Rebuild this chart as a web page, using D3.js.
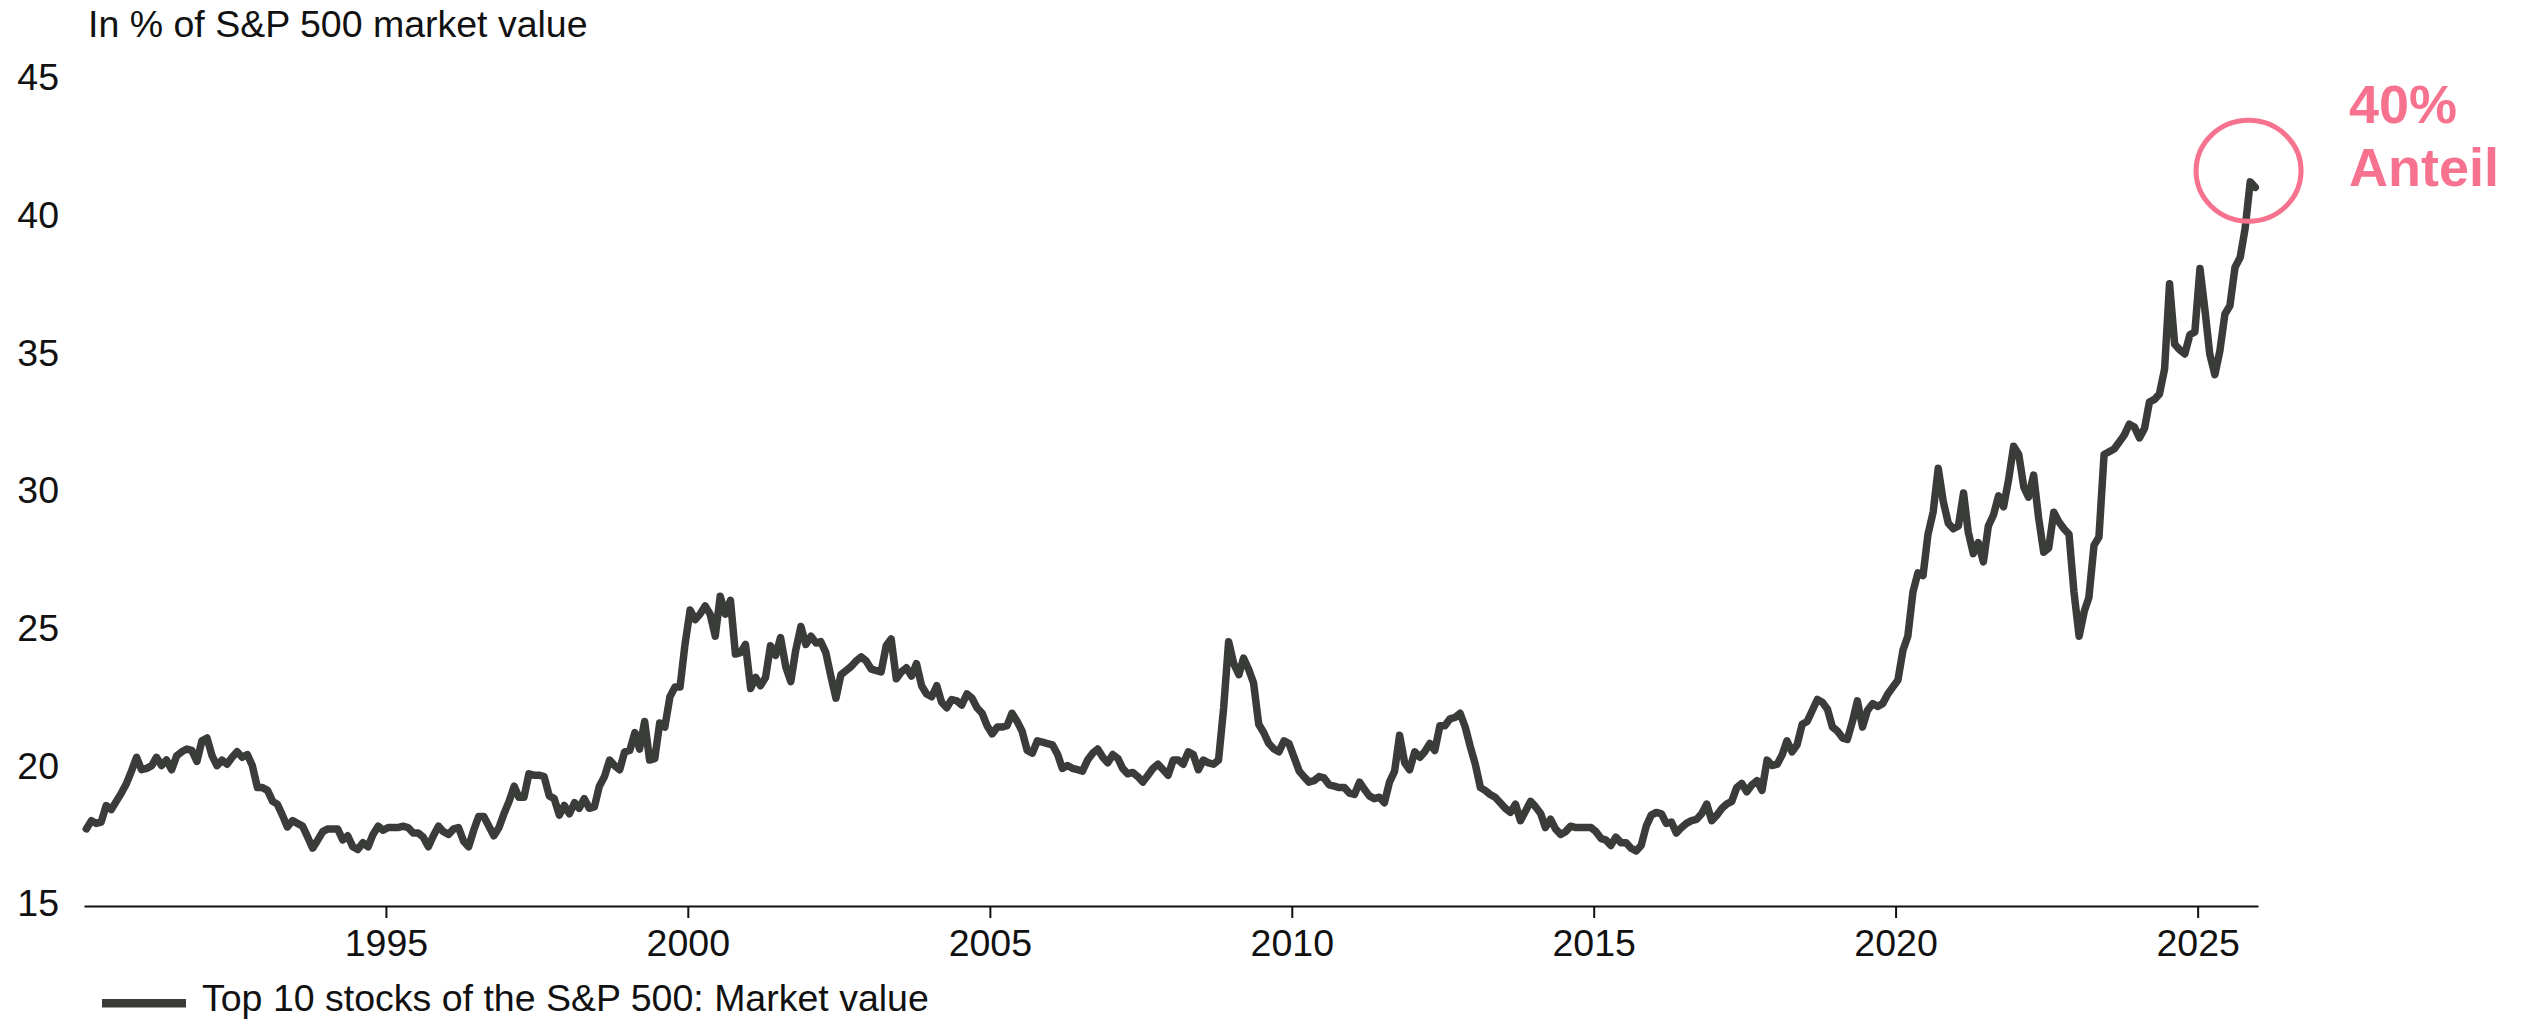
<!DOCTYPE html>
<html>
<head>
<meta charset="utf-8">
<script src="https://cdn.jsdelivr.net/npm/d3@7"></script>
<style>
  html, body { margin: 0; padding: 0; background: #ffffff; }
  svg { display: block; }
  text { font-family: "Liberation Sans", Arial, Helvetica, sans-serif; }
</style>
</head>
<body>
<svg id="chart" width="2521" height="1019"></svg>
<script>
// ---- DATA (monthly, Jan 1990 .. Dec 2025) ----
const startYear = 1990;
const values1990s = [
  17.8, 18.1, 18.0, 18.05, 18.65, 18.5, 18.8, 19.1, 19.45, 19.9, 20.4, 19.95,
  20.0, 20.1, 20.4, 20.1, 20.3, 19.95, 20.45, 20.6, 20.7, 20.65, 20.25, 21.0,
  21.1, 20.45, 20.1, 20.3, 20.15, 20.4, 20.6, 20.4, 20.5, 20.1, 19.3, 19.3,
  19.2, 18.8, 18.7, 18.3, 17.87, 18.1, 18.0, 17.9, 17.5, 17.1, 17.4, 17.7,
  17.8, 17.8, 17.8, 17.4, 17.55, 17.15, 17.05, 17.3, 17.15, 17.6, 17.9, 17.75,
  17.85, 17.85, 17.85, 17.9, 17.85, 17.65, 17.65, 17.5, 17.15, 17.55, 17.9, 17.7,
  17.6, 17.8, 17.85, 17.35, 17.15, 17.75, 18.25, 18.25, 17.9, 17.55, 17.85, 18.35,
  18.8, 19.35, 18.95, 18.95, 19.8, 19.75, 19.75, 19.7, 19.0, 18.9, 18.3, 18.65,
  18.35, 18.75, 18.55, 18.9, 18.55, 18.6, 19.35, 19.7, 20.3, 20.1, 19.95, 20.6,
  20.65, 21.3, 20.7, 21.7, 20.3, 20.35, 21.65, 21.5, 22.6, 22.95, 22.95, 24.5
];
const values2000s = [
  25.75, 25.4, 25.6, 25.9, 25.6, 24.8, 26.25, 25.6, 26.1, 24.15, 24.2, 24.5,
  22.9, 23.3, 23.0, 23.3, 24.45, 24.1, 24.75, 23.7, 23.15, 24.3, 25.15, 24.5,
  24.8, 24.55, 24.6, 24.2, 23.35, 22.55, 23.4, 23.55, 23.7, 23.9, 24.05, 23.9,
  23.6, 23.55, 23.5, 24.45, 24.7, 23.25, 23.5, 23.65, 23.35, 23.8, 23.0, 22.7,
  22.6, 23.0, 22.4, 22.2, 22.5, 22.45, 22.3, 22.7, 22.55, 22.2, 22.0, 21.55,
  21.25, 21.5, 21.5, 21.55, 22.0, 21.7, 21.35, 20.65, 20.55, 21.0, 20.95, 20.9,
  20.85, 20.5, 20.0, 20.1, 20.0, 19.95, 19.9, 20.3, 20.55, 20.7, 20.4, 20.2,
  20.5, 20.35, 20.0, 19.8, 19.85, 19.7, 19.5, 19.75, 20.0, 20.15, 19.95, 19.75,
  20.3, 20.3, 20.15, 20.6, 20.5, 19.95, 20.3, 20.2, 20.15, 20.3, 22.2, 24.6,
  23.8, 23.4, 24.0, 23.6, 23.1, 21.6, 21.3, 20.9, 20.7, 20.6, 21.0, 20.9
];
const values2010s = [
  20.4, 19.9, 19.7, 19.5, 19.55, 19.7, 19.65, 19.4, 19.35, 19.3, 19.3, 19.1,
  19.05, 19.5, 19.25, 19.0, 18.9, 18.95, 18.75, 19.5, 19.9, 21.2, 20.2, 19.95,
  20.6, 20.4, 20.6, 20.9, 20.65, 21.55, 21.55, 21.8, 21.85, 22.0, 21.5, 20.8,
  20.15, 19.3, 19.2, 19.05, 18.95, 18.75, 18.55, 18.4, 18.7, 18.1, 18.45, 18.8,
  18.6, 18.35, 17.85, 18.15, 17.8, 17.6, 17.7, 17.9, 17.85, 17.85, 17.85, 17.85,
  17.7, 17.45, 17.4, 17.2, 17.5, 17.3, 17.3, 17.1, 17.0, 17.2, 17.9, 18.3,
  18.4, 18.35, 18.0, 18.05, 17.65, 17.85, 18.0, 18.1, 18.15, 18.35, 18.7, 18.1,
  18.3, 18.55, 18.7, 18.8, 19.3, 19.45, 19.15, 19.4, 19.55, 19.2, 20.3, 20.1,
  20.15, 20.5, 21.0, 20.6, 20.85, 21.6, 21.7, 22.1, 22.5, 22.4, 22.15, 21.5,
  21.35, 21.1, 21.05, 21.7, 22.45, 21.5, 22.1, 22.35, 22.25, 22.35, 22.7, 22.95
];
const values2020s = [
  23.2, 24.3, 24.8, 26.4, 27.1, 27.0, 28.5, 29.3, 30.9, 29.7, 28.9, 28.7,
  28.8, 30.0, 28.6, 27.8, 28.2, 27.5, 28.8, 29.2, 29.9, 29.5, 30.5, 31.7,
  31.4, 30.2, 29.85, 30.65, 29.1, 27.85, 28.0, 29.3, 28.95, 28.7, 28.5, 26.4,
  24.8, 25.7, 26.2, 28.1, 28.4, 31.4, 31.5, 31.6, 31.85, 32.1, 32.5, 32.4,
  32.0, 32.35, 33.3, 33.4, 33.6, 34.5, 37.6, 35.4, 35.2, 35.05, 35.75, 35.85,
  38.15, 36.6, 35.05, 34.3, 35.15, 36.5, 36.8, 38.2, 38.55, 39.6, 41.3, 41.1
];
const yTicks = [15, 20, 25, 30, 35, 40, 45];
const xTickYears = [1995, 2000, 2005, 2010, 2015, 2020, 2025];
const titleText = "In % of S&P 500 market value";
const legendText = "Top 10 stocks of the S&P 500: Market value";
const annotationLines = ["40%", "Anteil"];

// ---- BUILD ----
const values = [].concat(values1990s, values2000s, values2010s, values2020s);
const data = values.map((v, i) => ({ date: new Date(startYear, i, 15), value: v }));

const lineColor = "#3a3c39";
const pink = "#f6728f";
const fontSize = 37.5;

const svg = d3.select("#chart");

const x = d3.scaleTime()
  .domain([new Date(1990, 0, 1), new Date(2026, 0, 1)])
  .range([84, 2258]);
const y = d3.scaleLinear().domain([15, 45]).range([906, 80]);

// title
svg.append("text")
  .attr("x", 88).attr("y", 37)
  .attr("font-size", fontSize)
  .attr("fill", "#111")
  .text(titleText);

// y axis labels
const yAxis = svg.append("g")
  .attr("transform", "translate(59,0)")
  .call(d3.axisLeft(y).tickValues(yTicks).tickSize(0).tickPadding(0).tickFormat(d3.format("d")));
yAxis.select(".domain").remove();
yAxis.selectAll("text")
  .attr("font-size", fontSize)
  .attr("font-family", "'Liberation Sans', Arial, sans-serif")
  .attr("fill", "#111")
  .attr("dy", "0.26em");

// line
const line = d3.line()
  .x(d => x(d.date))
  .y(d => y(d.value));

svg.append("path")
  .datum(data)
  .attr("fill", "none")
  .attr("stroke", lineColor)
  .attr("stroke-width", 7.5)
  .attr("stroke-linejoin", "round")
  .attr("stroke-linecap", "round")
  .attr("d", line);

// x axis
const xAxis = svg.append("g")
  .attr("transform", "translate(0,906)")
  .call(d3.axisBottom(x)
    .tickValues(xTickYears.map(yr => new Date(yr, 0, 1)))
    .tickFormat(d3.timeFormat("%Y"))
    .tickSize(12)
    .tickSizeOuter(0)
    .tickPadding(11));
xAxis.select(".domain").attr("stroke", "#111").attr("stroke-width", 2);
xAxis.selectAll(".tick line").attr("stroke", "#111").attr("stroke-width", 2);
xAxis.selectAll("text")
  .attr("font-size", fontSize)
  .attr("font-family", "'Liberation Sans', Arial, sans-serif")
  .attr("fill", "#111");

// annotation circle
svg.append("ellipse")
  .attr("cx", x(new Date(2025, 10, 5)))
  .attr("cy", y(41.7))
  .attr("rx", 52.5)
  .attr("ry", 50.5)
  .attr("fill", "none")
  .attr("stroke", pink)
  .attr("stroke-width", 5);

const ann = svg.append("text")
  .attr("x", 2349)
  .attr("font-size", 54)
  .attr("font-weight", "bold")
  .attr("fill", pink);
ann.selectAll("tspan")
  .data(annotationLines)
  .join("tspan")
  .attr("x", 2349)
  .attr("y", (d, i) => 123 + i * 63)
  .text(d => d);

// legend
svg.append("rect")
  .attr("x", 102).attr("y", 999)
  .attr("width", 84).attr("height", 8.5)
  .attr("fill", lineColor);
svg.append("text")
  .attr("x", 202).attr("y", 1010.5)
  .attr("font-size", fontSize)
  .attr("fill", "#111")
  .text(legendText);
</script>
</body>
</html>
